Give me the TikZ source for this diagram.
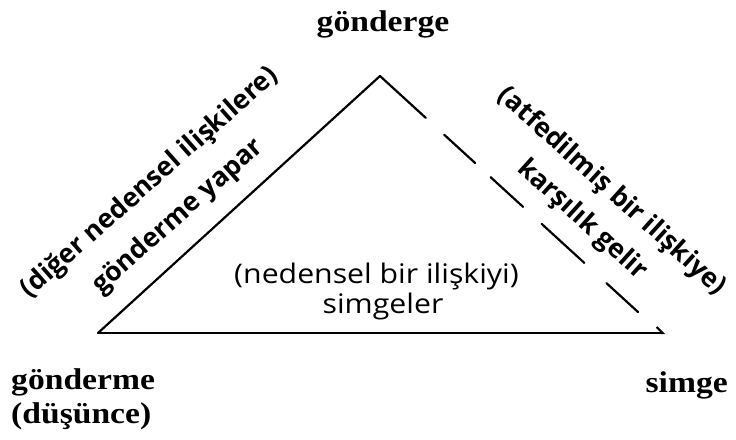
\documentclass[tikz,border=0pt]{standalone}
\usepackage{fontspec}
\setmainfont{Liberation Serif}
\newfontfamily\humsans{Open Sans}
\usetikzlibrary{arrows.meta}
\begin{document}
\begin{tikzpicture}[x=1pt,y=-1pt,
  cornerlabel/.style={font=\fontsize{30}{34}\selectfont\bfseries, inner sep=0pt, xscale=1.12},
  edgelabel/.style={font=\humsans\bfseries\fontsize{26.6}{30}\selectfont, inner sep=0pt},
  innerlabel/.style={font=\humsans\fontsize{27}{30}\selectfont, inner sep=0pt, xscale=1.12, anchor=base},
  side/.style={line width=2.2pt, line cap=round, line join=miter},
]
\useasboundingbox (0,0) rectangle (736,439);
\fill[white] (0,0) rectangle (736,439);

% corners of the triangle
\coordinate (apex) at (380,76);
\coordinate (left) at (98,333);
\coordinate (right) at (665,333);
\coordinate (dashend) at (638,312);

% sides
\draw[side] (left) -- (apex);
\draw[side, dash pattern=on 62pt off 25pt on 42pt off 21pt on 44pt off 25pt on 58pt off 30pt on 43pt off 100pt]
  (apex) -- (dashend);
\draw[line width=2.2pt, -{Straight Barb[left,length=6pt,width=12pt,line width=2pt]}] (left) -- (right);

% corner labels
\node[cornerlabel] (ref) at (383,24) {gönderge};
\node[cornerlabel, anchor=north west, align=left, font=\fontsize{30}{34}\selectfont\bfseries] (thought) at (11,368) {gönderme\\(düşünce)};
\node[cornerlabel, anchor=base east] (sym) at (728,392) {simge};

% side labels
\node[edgelabel, rotate=41.5] (lout) at (150,183) {(diğer nedensel ilişkilere)};
\node[edgelabel, rotate=41.5] (lin) at (178.5,216.5) {gönderme yapar};
\node[edgelabel, rotate=-42] (rout) at (611.5,191.5) {(atfedilmiş bir ilişkiye)};
\node[edgelabel, rotate=-42] (rin) at (582,220) {karşılık gelir};

% base label
\node[innerlabel] (base1) at (376.5,283) {(nedensel bir ilişkiyi)};
\node[innerlabel] (base2) at (383,313) {simgeler};
\end{tikzpicture}
\end{document}
